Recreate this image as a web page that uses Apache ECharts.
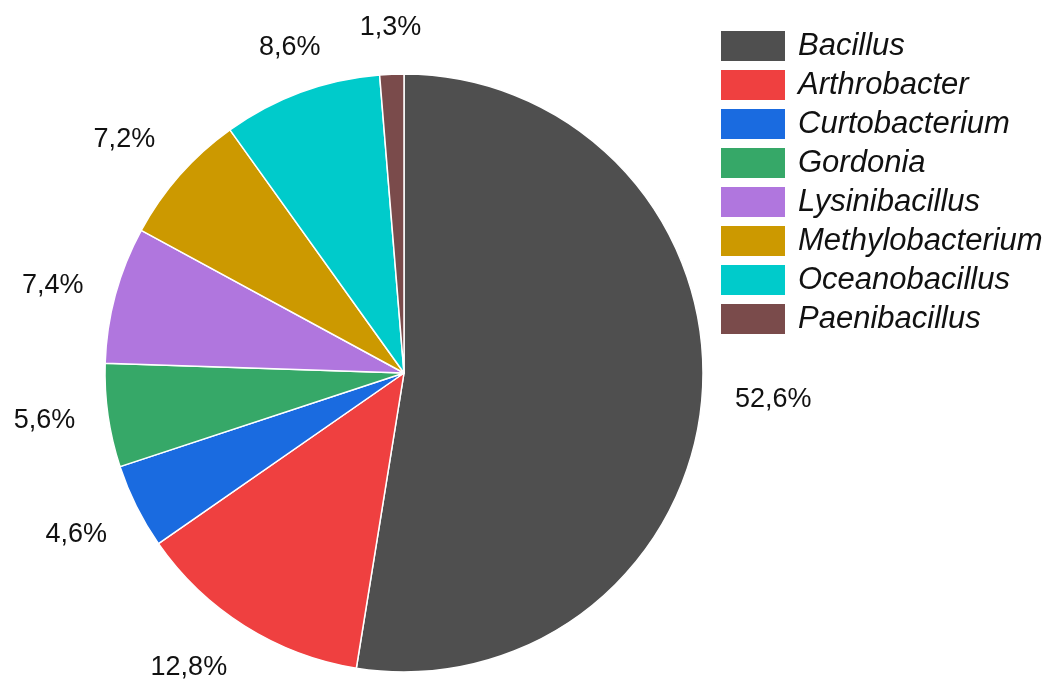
<!DOCTYPE html>
<html>
<head>
<meta charset="utf-8">
<script src="https://cdn.jsdelivr.net/npm/echarts@6/dist/echarts.min.js"></script>
<style>
  html, body { margin: 0; padding: 0; background: #ffffff; }
  #chart { width: 1053px; height: 679px; }
</style>
</head>
<body>
<div id="chart"></div>
<script>
// Genera share (%) of the isolated strains
const genera = ['Bacillus', 'Arthrobacter', 'Curtobacterium', 'Gordonia',
                'Lysinibacillus', 'Methylobacterium', 'Oceanobacillus', 'Paenibacillus'];
const shares = [52.6, 12.8, 4.6, 5.6, 7.4, 7.2, 8.6, 1.3];
const colors = ['#4f4f4f', '#ef4040', '#1a6be0', '#36a868',
                '#b076de', '#cc9900', '#00cbcb', '#7a4b4b'];

const slices = genera.map((name, i) => ({
  name: name,
  value: shares[i],
  itemStyle: { color: colors[i] }
}));

const fmt = p => p.value.toFixed(1).replace('.', ',') + '%';
const FONT = '"Liberation Sans", Arial, sans-serif';

// Mid-angle of every slice (degrees clockwise from 12 o'clock), used to
// decide on which side of its anchor point each percentage is written.
const total = shares.reduce((a, b) => a + b, 0);
const midAngles = [];
shares.reduce((acc, v) => { midAngles.push((acc + v / 2) / total * 360); return acc + v; }, 0);

function outsideAlign(params) {
  const a = midAngles[params.dataIndex] * Math.PI / 180;
  const sx = Math.sin(a), sy = -Math.cos(a);
  return {
    align: sx > 0.38 ? 'left' : (sx < -0.38 ? 'right' : 'center'),
    verticalAlign: sy > 0.38 ? 'top' : (sy < -0.38 ? 'bottom' : 'middle')
  };
}

const chart = echarts.init(document.getElementById('chart'), null, { renderer: 'canvas' });
chart.setOption({
  backgroundColor: '#ffffff',
  animation: false,
  legend: {
    orient: 'vertical',
    left: 719,
    top: 29,
    padding: 0,
    icon: 'rect',
    itemWidth: 66,
    itemHeight: 32,
    itemGap: 5,
    selectedMode: false,
    data: genera,
    textStyle: {
      fontFamily: FONT,
      fontStyle: 'italic',
      fontSize: 31,
      lineHeight: 30,
      color: '#111111',
      padding: [0, 0, 0, 7]
    }
  },
  series: [
    {
      // the pie itself
      type: 'pie',
      center: [404, 373],
      radius: 299,
      startAngle: 90,
      clockwise: true,
      silent: true,
      label: { show: false },
      labelLine: { show: false },
      itemStyle: { borderColor: '#ffffff', borderWidth: 1.5 },
      emphasis: { disabled: true },
      data: slices
    },
    {
      // invisible thin ring whose label anchors sit just outside the pie
      type: 'pie',
      center: [404, 373],
      radius: [324, 334],
      startAngle: 90,
      clockwise: true,
      silent: true,
      legendHoverLink: false,
      itemStyle: { color: 'rgba(0,0,0,0)', borderWidth: 0 },
      emphasis: { disabled: true },
      labelLine: { show: false },
      label: {
        show: true,
        position: 'inside',
        formatter: fmt,
        fontFamily: FONT,
        fontSize: 27,
        color: '#111111'
      },
      labelLayout: outsideAlign,
      data: genera.map((name, i) => ({ name: name, value: shares[i] }))
    }
  ]
});
</script>
</body>
</html>
